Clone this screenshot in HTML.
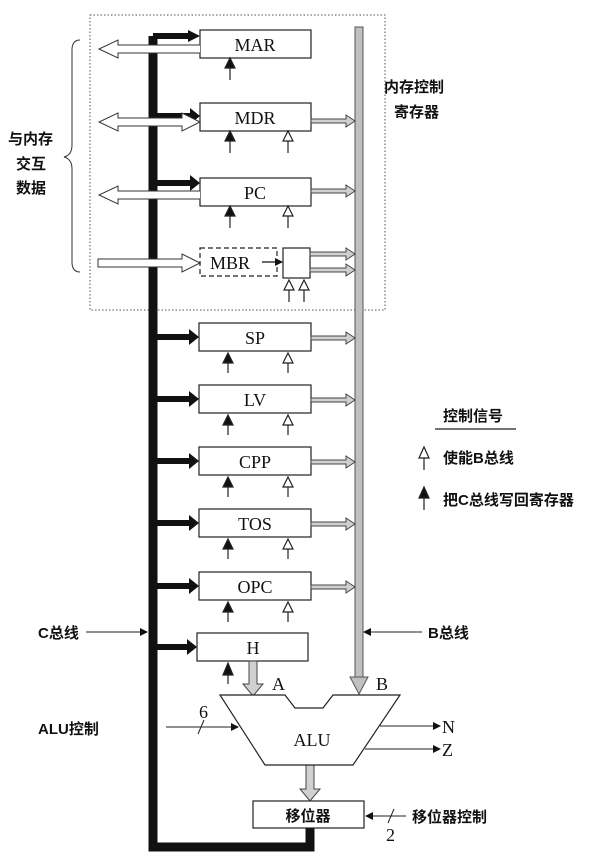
<!DOCTYPE html>
<html><head><meta charset="utf-8"><style>
html,body{margin:0;padding:0;background:#fff;}
svg{display:block;}
.r{font-family:"Liberation Serif",serif;font-size:18px;fill:#111;}
.c{font-family:"Liberation Sans","Noto Sans CJK SC",sans-serif;font-size:15px;font-weight:bold;fill:#111;}
</style></head><body>
<svg width="605" height="862" viewBox="0 0 605 862" xmlns="http://www.w3.org/2000/svg">
<defs>
<marker id="bk" markerWidth="8" markerHeight="8" refX="7" refY="4" orient="auto" markerUnits="userSpaceOnUse"><path d="M0,0 L8,4 L0,8 z" fill="#111"/></marker>
</defs>
<rect width="605" height="862" fill="#fff"/>
<rect x="90" y="15" width="295" height="295" fill="none" stroke="#555" stroke-width="1" stroke-dasharray="1.5,2"/>
<rect x="355" y="27" width="8" height="650" fill="#c0c0c0" stroke="#555" stroke-width="1"/>
<path d="M350,677 L368,677 L359,694 z" fill="#c0c0c0" stroke="#555"/>
<path d="M153,36 L153,847 L310,847 L310,828" fill="none" stroke="#111" stroke-width="9"/>
<path d="M153,36 L190,36" stroke="#111" stroke-width="6"/>
<path d="M188,30 L200,36 L188,42 z" fill="#111"/>

<g stroke="#222" stroke-width="1.2" fill="#fff">
<rect x="200" y="30" width="111" height="28"/>
<rect x="200" y="103" width="111" height="28"/>
<rect x="200" y="178" width="111" height="28"/>
<rect x="200" y="248" width="77" height="28" stroke-dasharray="5,3"/>
<rect x="283" y="248" width="27" height="30"/>
<rect x="199" y="323" width="112" height="28"/>
<rect x="199" y="385" width="112" height="28"/>
<rect x="199" y="447" width="112" height="28"/>
<rect x="199" y="509" width="112" height="28"/>
<rect x="199" y="572" width="112" height="28"/>
<rect x="197" y="633" width="111" height="28"/>
</g>
<g class="r" text-anchor="middle">
<text x="255" y="51">MAR</text>
<text x="255" y="124">MDR</text>
<text x="255" y="199">PC</text>
<text x="230" y="269">MBR</text>
<text x="255" y="344">SP</text>
<text x="255" y="406">LV</text>
<text x="255" y="468">CPP</text>
<text x="255" y="530">TOS</text>
<text x="255" y="593">OPC</text>
<text x="253" y="654">H</text>
</g>
<path d="M262,262 L282,262" stroke="#111" stroke-width="1.2" marker-end="url(#bk)"/>

<g fill="#111">
<path d="M157,113 L190,113 L190,108 L200,116 L190,124 L190,119 L157,119 z"/>
<path d="M157,180 L190,180 L190,175 L200,183 L190,191 L190,186 L157,186 z"/>
<path d="M157,334 L189,334 L189,329 L199,337 L189,345 L189,340 L157,340 z"/>
<path d="M157,396 L189,396 L189,391 L199,399 L189,407 L189,402 L157,402 z"/>
<path d="M157,458 L189,458 L189,453 L199,461 L189,469 L189,464 L157,464 z"/>
<path d="M157,520 L189,520 L189,515 L199,523 L189,531 L189,526 L157,526 z"/>
<path d="M157,583 L189,583 L189,578 L199,586 L189,594 L189,589 L157,589 z"/>
<path d="M157,644 L187,644 L187,639 L197,647 L187,655 L187,650 L157,650 z"/>
</g>

<g fill="#d0d0d0" stroke="#444" stroke-width="1">
<path d="M311,119 L346,119 L346,115 L355,121 L346,127 L346,123 L311,123 z"/>
<path d="M311,189 L346,189 L346,185 L355,191 L346,197 L346,193 L311,193 z"/>
<path d="M310,252 L346,252 L346,248 L355,254 L346,260 L346,256 L310,256 z"/>
<path d="M310,268 L346,268 L346,264 L355,270 L346,276 L346,272 L310,272 z"/>
<path d="M311,336 L346,336 L346,332 L355,338 L346,344 L346,340 L311,340 z"/>
<path d="M311,398 L346,398 L346,394 L355,400 L346,406 L346,402 L311,402 z"/>
<path d="M311,460 L346,460 L346,456 L355,462 L346,468 L346,464 L311,464 z"/>
<path d="M311,522 L346,522 L346,518 L355,524 L346,530 L346,526 L311,526 z"/>
<path d="M311,585 L346,585 L346,581 L355,587 L346,593 L346,589 L311,589 z"/>
<path d="M249,661 L257,661 L257,684 L263,684 L253,696 L243,684 L249,684 z"/>
<path d="M306,765 L314,765 L314,789 L320,789 L310,801 L300,789 L306,789 z"/>
</g>

<g fill="#fff" stroke="#333" stroke-width="1">
<path d="M200,45 L118,45 L118,40 L99,49 L118,58 L118,53 L200,53"/>
<path d="M118,118 L182,118 L182,113 L200,122 L182,131 L182,126 L118,126 L118,131 L99,122 L118,113 z"/>
<path d="M200,191 L118,191 L118,186 L99,195 L118,204 L118,199 L200,199"/>
<path d="M98,259 L182,259 L182,254 L200,263 L182,272 L182,267 L98,267 z"/>
</g>

<g stroke="#222" stroke-width="1.2" fill="#111">
<path d="M230,80 L230,66"/><path d="M225,68 L230,58 L235,68 z"/>
<path d="M230,153 L230,139"/><path d="M225,141 L230,131 L235,141 z"/>
<path d="M230,228 L230,214"/><path d="M225,216 L230,206 L235,216 z"/>
<path d="M228,373 L228,361"/><path d="M223,363 L228,353 L233,363 z"/>
<path d="M228,435 L228,423"/><path d="M223,425 L228,415 L233,425 z"/>
<path d="M228,497 L228,485"/><path d="M223,487 L228,477 L233,487 z"/>
<path d="M228,559 L228,547"/><path d="M223,549 L228,539 L233,549 z"/>
<path d="M228,622 L228,610"/><path d="M223,612 L228,602 L233,612 z"/>
<path d="M228,684 L228,673"/><path d="M223,675 L228,663 L233,675 z"/>
<path d="M424,510 L424,496"/><path d="M419,498 L424,487 L429,498 z"/>
</g>
<g stroke="#222" stroke-width="1.2" fill="#fff">
<path d="M288,153 L288,141"/><path d="M283,141 L288,131 L293,141 z"/>
<path d="M288,228 L288,216"/><path d="M283,216 L288,206 L293,216 z"/>
<path d="M289,302 L289,290"/><path d="M284,290 L289,280 L294,290 z"/>
<path d="M304,302 L304,290"/><path d="M299,290 L304,280 L309,290 z"/>
<path d="M288,373 L288,363"/><path d="M283,363 L288,353 L293,363 z"/>
<path d="M288,435 L288,425"/><path d="M283,425 L288,415 L293,425 z"/>
<path d="M288,497 L288,487"/><path d="M283,487 L288,477 L293,487 z"/>
<path d="M288,559 L288,549"/><path d="M283,549 L288,539 L293,549 z"/>
<path d="M288,622 L288,612"/><path d="M283,612 L288,602 L293,612 z"/>
<path d="M424,470 L424,458"/><path d="M419,458 L424,447 L429,458 z"/>
</g>

<path d="M80,40 Q72,40 72,50 L72,145 Q72,155 64,157 Q72,159 72,169 L72,262 Q72,272 80,272" fill="none" stroke="#333" stroke-width="1"/>
<text class="c" x="8" y="144" font-size="16">与内存</text>
<text class="c" x="16" y="169" font-size="16">交互</text>
<text class="c" x="16" y="193" font-size="16">数据</text>
<text class="c" x="384" y="92">内存控制</text>
<text class="c" x="394" y="117">寄存器</text>

<text class="c" x="443" y="421" font-size="16">控制信号</text>
<line x1="435" y1="429" x2="516" y2="429" stroke="#222" stroke-width="1.2"/>
<text class="c" x="443" y="463" font-size="16">使能B总线</text>
<text class="c" x="443" y="505" font-size="16">把C总线写回寄存器</text>

<path d="M220,695 L285,695 L295,708 L323,708 L333,695 L400,695 L353,765 L265,765 z" fill="#fff" stroke="#222" stroke-width="1.2"/>
<text class="r" x="312" y="746" text-anchor="middle">ALU</text>
<text class="r" x="272" y="690">A</text>
<text class="r" x="376" y="690">B</text>
<text class="c" x="38" y="734" font-size="16">ALU控制</text>
<line x1="166" y1="727" x2="238" y2="727" stroke="#222" stroke-width="1" marker-end="url(#bk)"/>
<line x1="198" y1="734" x2="204" y2="720" stroke="#222" stroke-width="1"/>
<text class="r" x="199" y="718" font-size="15">6</text>
<line x1="380" y1="726" x2="440" y2="726" stroke="#222" stroke-width="1" marker-end="url(#bk)"/>
<line x1="365" y1="749" x2="440" y2="749" stroke="#222" stroke-width="1" marker-end="url(#bk)"/>
<text class="r" x="442" y="733">N</text>
<text class="r" x="442" y="756">Z</text>
<text class="c" x="38" y="638" font-size="16">C总线</text>
<line x1="86" y1="632" x2="147" y2="632" stroke="#222" stroke-width="1" marker-end="url(#bk)"/>
<text class="c" x="428" y="638" font-size="16">B总线</text>
<line x1="422" y1="632" x2="364" y2="632" stroke="#222" stroke-width="1" marker-end="url(#bk)"/>
<rect x="253" y="801" width="111" height="27" fill="#fff" stroke="#222" stroke-width="1.2"/>
<text class="c" x="308" y="821" text-anchor="middle" font-size="17">移位器</text>
<line x1="406" y1="816" x2="366" y2="816" stroke="#222" stroke-width="1" marker-end="url(#bk)"/>
<line x1="388" y1="823" x2="394" y2="809" stroke="#222" stroke-width="1"/>
<text class="r" x="386" y="841" font-size="15">2</text>
<text class="c" x="412" y="822" font-size="16">移位器控制</text>
</svg>
</body></html>
